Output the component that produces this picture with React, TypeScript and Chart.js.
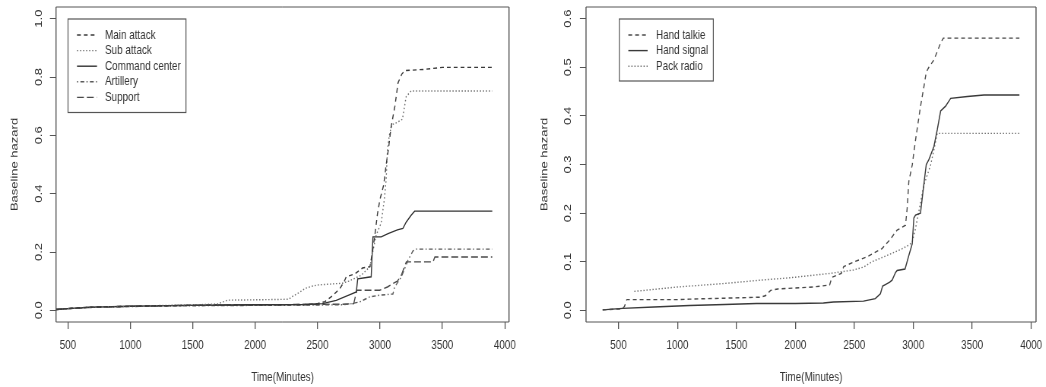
import React, { useEffect, useRef } from "react";
import { Chart, registerables } from "chart.js";

Chart.register(...registerables);

type Pt = [number, number];

// ---------- tick labels ----------
const xTickValues = [500, 1000, 1500, 2000, 2500, 3000, 3500, 4000];
const leftYTicks = [0, 0.2, 0.4, 0.6, 0.8, 1.0];
const rightYTicks = [0, 0.1, 0.2, 0.3, 0.4, 0.5, 0.6];
const xTitle = "Time(Minutes)";
const yTitle = "Baseline hazard";

// ---------- left panel series ----------
const leftLabels = ["Main attack", "Sub attack", "Command center", "Artillery", "Support"];

const mainAttack: Pt[] = [
  [405, 0.003], [500, 0.006], [600, 0.009], [700, 0.011], [900, 0.013], [1200, 0.015],
  [1500, 0.017], [1800, 0.018], [2100, 0.019], [2400, 0.02], [2500, 0.023], [2560, 0.03],
  [2620, 0.05], [2680, 0.075], [2715, 0.1], [2730, 0.115], [2800, 0.125], [2860, 0.145],
  [2920, 0.15], [2940, 0.2], [2960, 0.26], [2980, 0.33], [3000, 0.38], [3030, 0.43],
  [3050, 0.5], [3070, 0.56], [3090, 0.63], [3120, 0.7], [3145, 0.78], [3175, 0.81],
  [3200, 0.822], [3350, 0.826], [3500, 0.833], [3900, 0.833],
];

const subAttack: Pt[] = [
  [405, 0.003], [500, 0.006], [700, 0.011], [1000, 0.014], [1300, 0.017], [1600, 0.02],
  [1700, 0.022], [1750, 0.03], [1780, 0.035], [2000, 0.036], [2270, 0.038], [2300, 0.048],
  [2350, 0.06], [2400, 0.075], [2450, 0.082], [2500, 0.087], [2600, 0.09], [2700, 0.093],
  [2750, 0.1], [2850, 0.12], [2920, 0.15], [2940, 0.195], [2970, 0.258], [3010, 0.3],
  [3035, 0.38], [3050, 0.45], [3060, 0.55], [3075, 0.6], [3095, 0.636], [3140, 0.645],
  [3180, 0.655], [3210, 0.733], [3250, 0.752], [3900, 0.752],
];

const commandCenter: Pt[] = [
  [405, 0.003], [500, 0.006], [700, 0.011], [1000, 0.014], [1300, 0.016], [1600, 0.018],
  [2000, 0.019], [2400, 0.02], [2540, 0.023], [2650, 0.034], [2750, 0.052], [2811, 0.063],
  [2822, 0.108], [2930, 0.115], [2944, 0.252], [3010, 0.252], [3065, 0.263], [3140, 0.276],
  [3184, 0.281], [3211, 0.303], [3250, 0.326], [3278, 0.34], [3900, 0.34],
];

const artillery: Pt[] = [
  [405, 0.003], [500, 0.006], [700, 0.01], [1000, 0.013], [1300, 0.015], [1600, 0.016],
  [2000, 0.017], [2400, 0.018], [2700, 0.019], [2760, 0.022], [2838, 0.029], [2918, 0.046],
  [2998, 0.052], [3104, 0.056], [3118, 0.08], [3171, 0.114], [3198, 0.143], [3225, 0.172],
  [3265, 0.204], [3291, 0.21], [3900, 0.21],
];

const support: Pt[] = [
  [405, 0.003], [500, 0.006], [700, 0.011], [1000, 0.014], [1300, 0.016], [1600, 0.018],
  [2000, 0.019], [2400, 0.02], [2700, 0.021], [2790, 0.023], [2815, 0.069], [2998, 0.069],
  [3060, 0.08], [3104, 0.092], [3140, 0.1], [3171, 0.12], [3211, 0.166], [3425, 0.166],
  [3440, 0.183], [3900, 0.183],
];

// ---------- right panel series ----------
const rightLabels = ["Hand talkie", "Hand signal", "Pack radio"];

const handTalkie: Pt[] = [
  [365, 0.001], [530, 0.003], [550, 0.008], [570, 0.022], [1000, 0.022], [1100, 0.023],
  [1400, 0.025], [1700, 0.027], [1745, 0.03], [1790, 0.041], [1850, 0.044], [2000, 0.046],
  [2150, 0.048], [2290, 0.052], [2310, 0.068], [2390, 0.076], [2410, 0.09], [2500, 0.1],
  [2607, 0.11], [2735, 0.127], [2800, 0.145], [2863, 0.165], [2934, 0.175], [2948, 0.21],
  [2962, 0.265], [2991, 0.299], [3019, 0.35], [3061, 0.419], [3090, 0.46], [3110, 0.49],
  [3132, 0.5], [3175, 0.515], [3232, 0.55], [3255, 0.56], [3900, 0.56],
];

const handSignal: Pt[] = [
  [365, 0.001], [534, 0.004], [800, 0.007], [1102, 0.01], [1400, 0.012], [1670, 0.014],
  [2000, 0.014], [2238, 0.015], [2323, 0.017], [2578, 0.019], [2678, 0.024], [2721, 0.034],
  [2740, 0.05], [2763, 0.053], [2800, 0.058], [2820, 0.062], [2850, 0.078], [2863, 0.082],
  [2930, 0.085], [2962, 0.113], [2991, 0.137], [3005, 0.19], [3019, 0.196], [3061, 0.2],
  [3090, 0.26], [3110, 0.3], [3132, 0.31], [3175, 0.337], [3203, 0.371], [3232, 0.41],
  [3274, 0.42], [3317, 0.436], [3459, 0.44], [3600, 0.443], [3900, 0.443],
];

const packRadio: Pt[] = [
  [634, 0.039], [1000, 0.048], [1386, 0.055], [1700, 0.062], [1954, 0.067], [2295, 0.076],
  [2493, 0.083], [2578, 0.089], [2650, 0.1], [2777, 0.113], [2900, 0.126], [2961, 0.134],
  [2991, 0.14], [3020, 0.17], [3047, 0.203], [3090, 0.258], [3147, 0.299], [3175, 0.33],
  [3203, 0.364], [3900, 0.364],
];

// ---------- styling ----------
const FONT = "'Liberation Sans', Arial, sans-serif";
const TEXT = "#333333";
const AXIS = "#555555";
const SX = 0.76; // horizontal compression of the original image
const CW = 688;
const CH = 387;
const AREA_TOP = 7;
const AREA_BOTTOM = 322;

const DASHED = [5, 4];
const DOTTED = [1.5, 2.5];
const DOTDASH = [1.5, 3, 5, 3];
const LONGDASH = [9, 4];

type Series = { label: string; data: Pt[]; color: string; dash: number[] };
type Legend = { x: number; y: number; w: number; h: number; l0: number; l1: number; tx: number; ry: number; rh: number };
type PanelCfg = {
  series: Series[];
  xMin: number; xMax: number; yMin: number; yMax: number;
  yTicks: number[];
  areaLeft: number; areaRight: number;
  yTickPad: number; yTitlePad: number;
  legend: Legend;
};

const leftCfg: PanelCfg = {
  series: [
    { label: leftLabels[0], data: mainAttack, color: "#3a3a3a", dash: DASHED },
    { label: leftLabels[1], data: subAttack, color: "#6e6e6e", dash: DOTTED },
    { label: leftLabels[2], data: commandCenter, color: "#333333", dash: [] },
    { label: leftLabels[3], data: artillery, color: "#5a5a5a", dash: DOTDASH },
    { label: leftLabels[4], data: support, color: "#4a4a4a", dash: LONGDASH },
  ],
  xMin: 405, xMax: 4034, yMin: -0.04, yMax: 1.04,
  yTicks: leftYTicks,
  areaLeft: 56 / SX, areaRight: 509 / SX,
  yTickPad: 5, yTitlePad: 11.9,
  legend: { x: 89.5, y: 19, w: 155.2, h: 93.5, l0: 101.3, l1: 127.6, tx: 138.2, ry: 35, rh: 15.6 },
};

const rightCfg: PanelCfg = {
  series: [
    { label: rightLabels[0], data: handTalkie, color: "#4a4a4a", dash: DASHED },
    { label: rightLabels[1], data: handSignal, color: "#3a3a3a", dash: [] },
    { label: rightLabels[2], data: packRadio, color: "#6e6e6e", dash: DOTTED },
  ],
  xMin: 224, xMax: 4041, yMin: -0.024, yMax: 0.624,
  yTicks: rightYTicks,
  areaLeft: 63 / SX, areaRight: 513 / SX,
  yTickPad: 6, yTitlePad: 21.1,
  legend: { x: 126.7, y: 19, w: 123.7, h: 62, l0: 138.6, l1: 164, tx: 175, ry: 35, rh: 15.6 },
};

const boxPlugin = {
  id: "rbox",
  afterDraw(chart: any) {
    const { ctx, chartArea: a } = chart;
    ctx.save();
    ctx.strokeStyle = AXIS;
    ctx.lineWidth = 1;
    ctx.beginPath();
    ctx.moveTo(a.left, a.top);
    ctx.lineTo(a.right, a.top);
    ctx.moveTo(a.left, a.bottom);
    ctx.lineTo(a.right, a.bottom);
    ctx.stroke();
    ctx.lineWidth = 1.4;
    ctx.beginPath();
    ctx.moveTo(a.left, a.top);
    ctx.lineTo(a.left, a.bottom);
    ctx.moveTo(a.right, a.top);
    ctx.lineTo(a.right, a.bottom);
    ctx.stroke();
    ctx.restore();
  },
};

function legendPlugin(g: Legend) {
  return {
    id: "rlegend",
    afterDraw(chart: any) {
      const ctx = chart.ctx;
      ctx.save();
      ctx.fillStyle = "#ffffff";
      ctx.fillRect(g.x, g.y, g.w, g.h);
      ctx.strokeStyle = AXIS;
      ctx.lineWidth = 1.2;
      ctx.strokeRect(g.x, g.y, g.w, g.h);
      chart.data.datasets.forEach((ds: any, i: number) => {
        const yy = g.ry + i * g.rh;
        ctx.setLineDash(ds.borderDash || []);
        ctx.strokeStyle = ds.borderColor;
        ctx.lineWidth = ds.borderWidth;
        ctx.beginPath();
        ctx.moveTo(g.l0, yy);
        ctx.lineTo(g.l1, yy);
        ctx.stroke();
        ctx.setLineDash([]);
        ctx.fillStyle = TEXT;
        ctx.font = `13px ${FONT}`;
        ctx.textBaseline = "middle";
        ctx.textAlign = "left";
        ctx.fillText(ds.label, g.tx, yy);
      });
      ctx.restore();
    },
  };
}

function Panel({ cfg }: { cfg: PanelCfg }) {
  const ref = useRef<HTMLCanvasElement>(null);
  useEffect(() => {
    const canvas = ref.current;
    if (!canvas) return;
    const font = { family: FONT, size: 13 };
    const chart = new Chart(canvas, {
      type: "line",
      data: {
        datasets: cfg.series.map((s) => ({
          label: s.label,
          data: s.data.map(([x, y]) => ({ x, y })),
          borderColor: s.color,
          borderWidth: 1.4,
          borderDash: s.dash,
          pointRadius: 0,
          fill: false,
          tension: 0,
        })),
      },
      options: {
        animation: false,
        responsive: false,
        maintainAspectRatio: false,
        devicePixelRatio: 1,
        events: [],
        layout: { padding: { left: 0, top: AREA_TOP, right: CW - cfg.areaRight, bottom: 0 } },
        plugins: { legend: { display: false }, tooltip: { enabled: false }, title: { display: false } },
        scales: {
          x: {
            type: "linear",
            min: cfg.xMin,
            max: cfg.xMax,
            afterBuildTicks: (s: any) => {
              s.ticks = xTickValues.map((v) => ({ value: v }));
            },
            afterFit: (s: any) => {
              s.height = CH - AREA_BOTTOM;
              s.paddingLeft = 0;
              s.paddingRight = 0;
            },
            grid: { drawOnChartArea: false, drawTicks: true, tickLength: 7, color: AXIS, lineWidth: 1.3 },
            border: { display: false },
            ticks: {
              font, color: TEXT, padding: 8.7, minRotation: 0, maxRotation: 0, autoSkip: false,
              callback: (v: any) => String(v),
            },
            title: { display: true, text: xTitle, font, color: TEXT, padding: { top: 0, bottom: 1.9 } },
          },
          y: {
            type: "linear",
            min: cfg.yMin,
            max: cfg.yMax,
            afterBuildTicks: (s: any) => {
              s.ticks = cfg.yTicks.map((v) => ({ value: v }));
            },
            afterFit: (s: any) => {
              s.width = cfg.areaLeft;
              s.paddingTop = 0;
              s.paddingBottom = 0;
            },
            grid: { drawOnChartArea: false, drawTicks: true, tickLength: 8, color: AXIS, lineWidth: 1 },
            border: { display: false },
            ticks: {
              font, color: TEXT, padding: cfg.yTickPad, minRotation: 90, maxRotation: 90,
              crossAlign: "center", autoSkip: false,
              callback: (v: any) => Number(v).toFixed(1),
            },
            title: { display: true, text: yTitle, font, color: TEXT, padding: { top: cfg.yTitlePad, bottom: 0 } },
          },
        },
      } as any,
      plugins: [boxPlugin, legendPlugin(cfg.legend)],
    });
    return () => chart.destroy();
  }, [cfg]);
  return (
    <canvas
      ref={ref}
      width={CW}
      height={CH}
      style={{ width: CW, height: CH, display: "block" }}
    />
  );
}

export default function App() {
  const wrap: React.CSSProperties = {
    position: "absolute",
    top: 0,
    width: CW,
    height: CH,
    transform: `scaleX(${SX})`,
    transformOrigin: "0 0",
  };
  return (
    <div
      style={{
        position: "absolute",
        left: 0,
        top: 0,
        width: 1046,
        height: 387,
        overflow: "hidden",
        background: "#ffffff",
      }}
    >
      <div style={{ ...wrap, left: 0 }}>
        <Panel cfg={leftCfg} />
      </div>
      <div style={{ ...wrap, left: 523 }}>
        <Panel cfg={rightCfg} />
      </div>
    </div>
  );
}
